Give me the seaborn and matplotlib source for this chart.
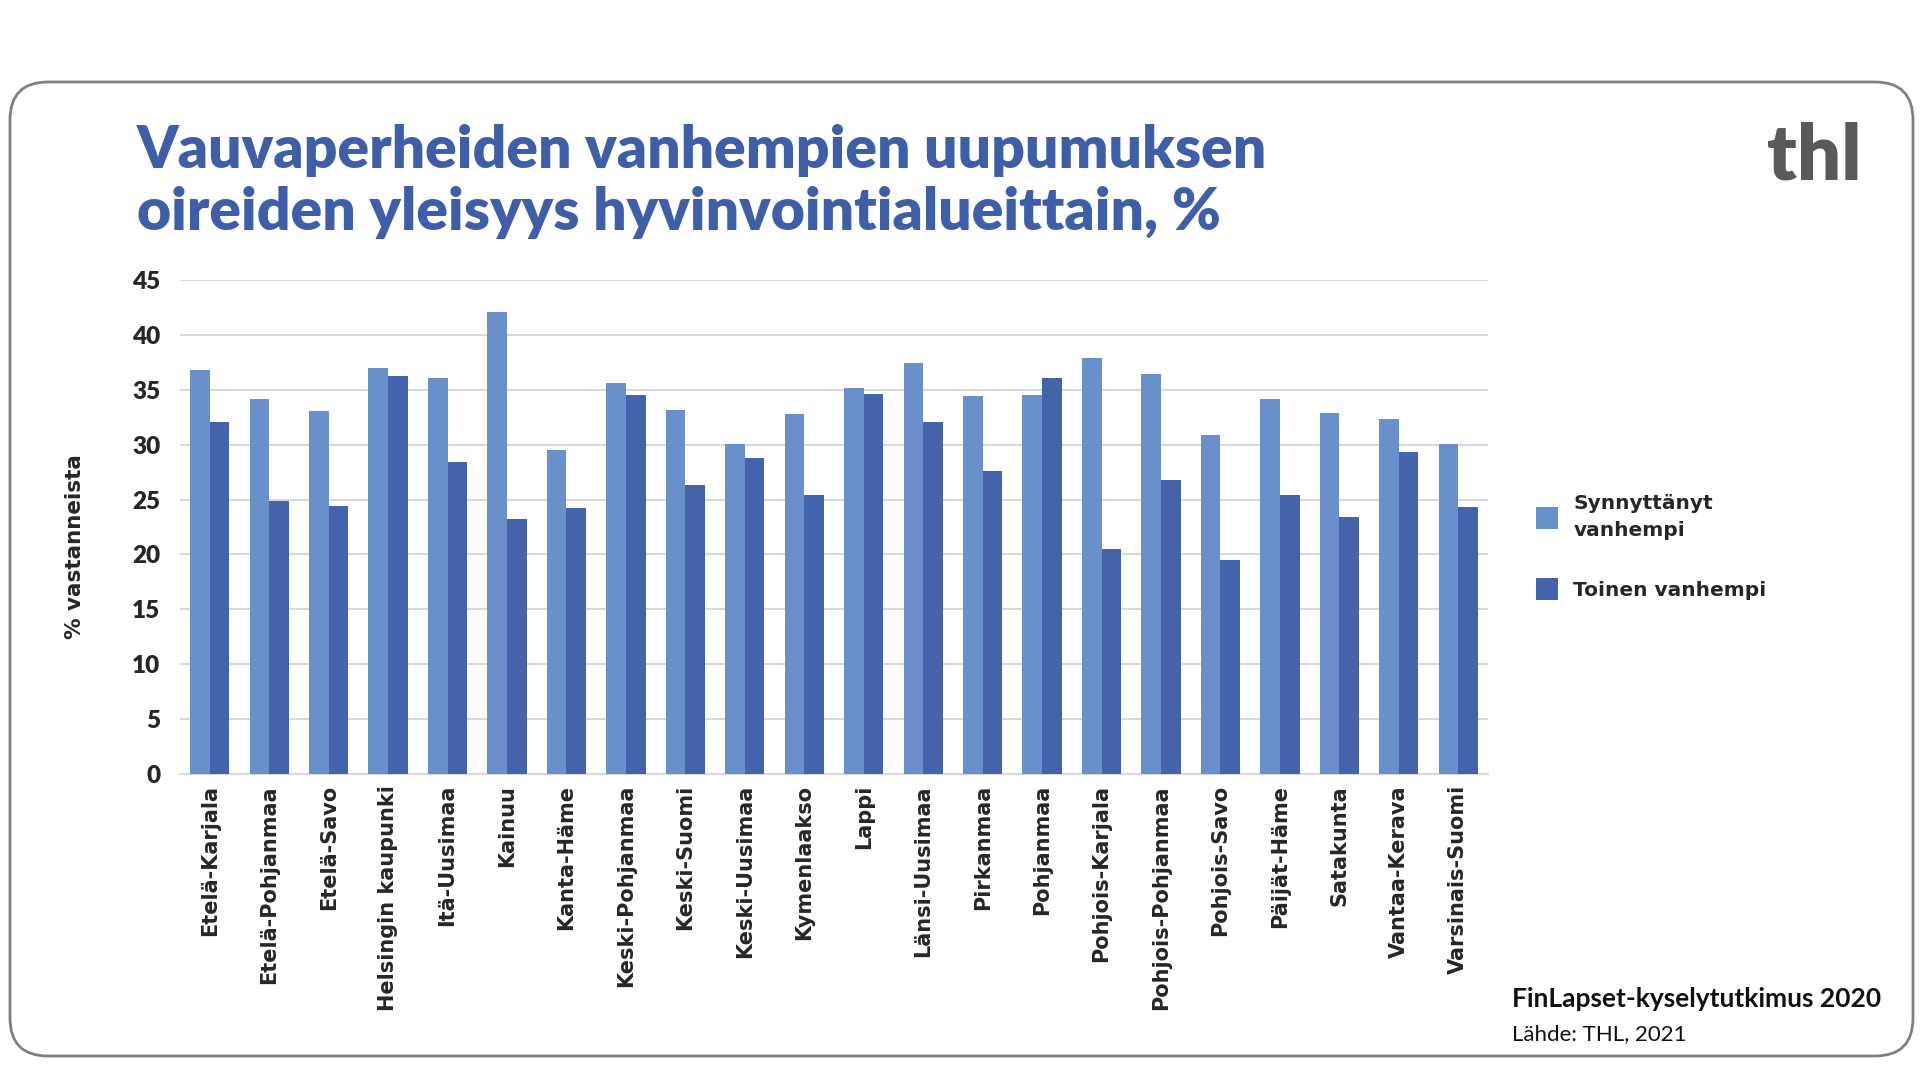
import matplotlib
matplotlib.use('Agg')
import matplotlib.pyplot as plt
from matplotlib.patches import FancyBboxPatch
import numpy as np
import pandas as pd
import seaborn as sns

# values
regions = ["Etelä-Karjala", "Etelä-Pohjanmaa", "Etelä-Savo", "Helsingin kaupunki",
           "Itä-Uusimaa", "Kainuu", "Kanta-Häme", "Keski-Pohjanmaa", "Keski-Suomi",
           "Keski-Uusimaa", "Kymenlaakso", "Lappi", "Länsi-Uusimaa", "Pirkanmaa",
           "Pohjanmaa", "Pohjois-Karjala", "Pohjois-Pohjanmaa", "Pohjois-Savo",
           "Päijät-Häme", "Satakunta", "Vantaa-Kerava", "Varsinais-Suomi"]
synnyttanyt = [36.8, 34.2, 33.1, 37.0, 36.1, 42.1, 29.5, 35.6, 33.2, 30.1, 32.8,
               35.2, 37.4, 34.4, 34.5, 37.9, 36.4, 30.9, 34.2, 32.9, 32.3, 30.1]
toinen = [32.1, 24.9, 24.4, 36.3, 28.4, 23.2, 24.2, 34.5, 26.3, 28.8, 25.4,
          34.6, 32.1, 27.6, 36.1, 20.5, 26.8, 19.5, 25.4, 23.4, 29.3, 24.3]
series = ["Synnyttänyt\nvanhempi", "Toinen vanhempi"]
yticks = list(range(0, 50, 5))

df = pd.DataFrame({
    "alue": regions * 2,
    "sarja": [series[0]] * len(regions) + [series[1]] * len(regions),
    "arvo": synnyttanyt + toinen,
})

sns.set_style("white")
plt.rcParams['font.family'] = ['DejaVu Sans']

fig = plt.figure(figsize=(19.2, 10.8), dpi=100)
W, H = 1920, 1080
ax = fig.add_axes([180 / W, 1 - 774 / H, 1308 / W, 494 / H])

sns.barplot(data=df, x="alue", y="arvo", hue="sarja", ax=ax,
            palette=["#6990cb", "#4563aa"], saturation=1, width=0.66,
            linewidth=0, zorder=3)

ax.set_ylim(0, 45)
ax.set_yticks(yticks)
ax.set_xlim(-0.5, len(regions) - 0.5)
ax.yaxis.grid(True, color="#d9d9d9", linewidth=1.5, zorder=0)
ax.set_axisbelow(True)
for s in ["top", "right", "left"]:
    ax.spines[s].set_visible(False)
ax.spines["bottom"].set_color("#d9d9d9")
ax.spines["bottom"].set_linewidth(1.5)
ax.tick_params(length=0)
ax.tick_params(axis="y", pad=14)
ax.tick_params(axis="x", pad=8)

for lab in ax.get_yticklabels():
    lab.set_fontfamily("Lato")
    lab.set_fontweight("heavy")
    lab.set_fontsize(17.5)
for lab in ax.get_xticklabels():
    lab.set_rotation(90)
    lab.set_fontweight("bold")
    lab.set_fontsize(15)
    lab.set_va("top")

ax.set_xlabel("")
ax.set_ylabel("% vastanneista", fontsize=15.5, fontweight="bold")
ax.yaxis.set_label_coords(-0.073, 0.46)

sns.move_legend(ax, "upper left", bbox_to_anchor=(1518 / W, 1 - 476 / H),
                bbox_transform=fig.transFigure, frameon=False, title=None,
                fontsize=14.5, handlelength=1.1, handleheight=1.3,
                labelspacing=1.9, handletextpad=0.75)
for t in ax.get_legend().get_texts():
    t.set_fontweight("bold")
    t.set_linespacing(1.5)

# title
fig.text(137 / W, 1 - 168 / H, "Vauvaperheiden vanhempien uupumuksen",
         fontsize=42.3, fontweight="heavy", color="#3f5ea8", family="Lato",
         va="baseline")
fig.text(137 / W, 1 - 230 / H, "oireiden yleisyys hyvinvointialueittain, %",
         fontsize=42.3, fontweight="heavy", color="#3f5ea8", family="Lato",
         va="baseline")

# logo
fig.text(1862 / W, 1 - 180 / H, "thl", fontsize=56, fontweight="heavy",
         color="#595959", family="Lato", ha="right", va="baseline")

# footer
fig.text(1512 / W, 1 - 1007 / H, "FinLapset-kyselytutkimus 2020", fontsize=19,
         fontweight="bold", color="#111111", family="Lato", va="baseline")
fig.text(1512 / W, 1 - 1040 / H, "Lähde: THL, 2021", fontsize=16,
         color="#111111", family="Lato", va="baseline")

# rounded frame
frame = FancyBboxPatch((0.10, 0.24), 19.03, 9.74,
                       boxstyle="round,pad=0,rounding_size=0.38",
                       transform=fig.dpi_scale_trans, facecolor="none",
                       edgecolor="#808080", linewidth=2)
fig.patches.append(frame)

plt.savefig("out.png", dpi=100)
